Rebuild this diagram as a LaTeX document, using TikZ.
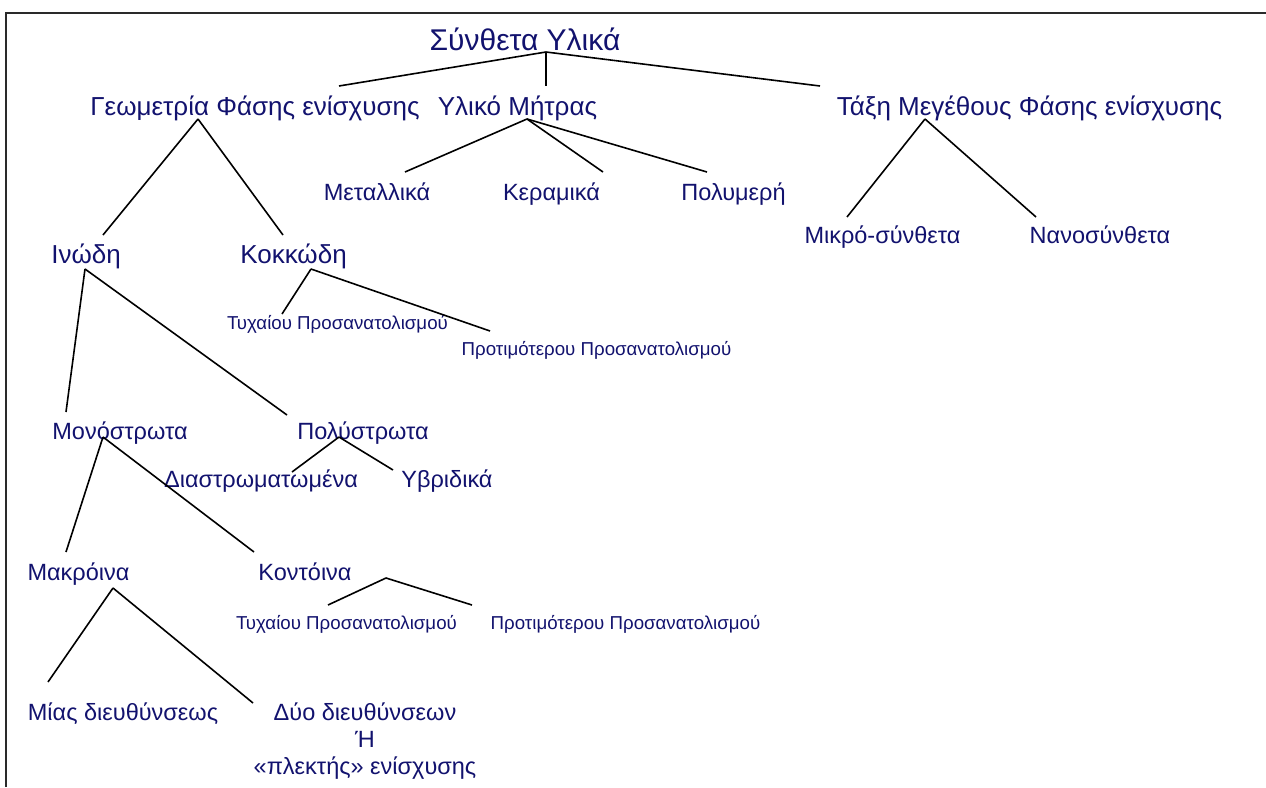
\documentclass[tikz,border=0pt]{standalone}
\usepackage{fontspec}
\setmainfont{Liberation Sans}
\usepackage{xcolor}
\usepackage{tikz}
\definecolor{TextNavy}{HTML}{12126E}
\definecolor{FrameGray}{HTML}{2A2A2A}

\begin{document}
\begin{tikzpicture}[x=1pt, y=-1pt,
  txt/.style={inner sep=0pt, anchor=base, text=TextNavy},
  root/.style={txt, font=\fontsize{30}{36}\selectfont},
  cat/.style={txt, font=\fontsize{26}{31}\selectfont},
  sub/.style={txt, font=\fontsize{23.5}{27}\selectfont},
  tiny/.style={txt, font=\fontsize{18.7}{22}\selectfont},
  edge/.style={line width=1.6pt, black}
]
\useasboundingbox (0,0) rectangle (1266,787);

% Frame (top and left edge only)
\draw[line width=2pt, FrameGray] (6,787) -- (6,13) -- (1266,13);

% Root and first level
\node[root] (comp) at (525,50) {Σύνθετα Υλικά};
\node[cat] (geom) at (255,115) {Γεωμετρία Φάσης ενίσχυσης};
\node[cat] (matrix) at (517.5,115) {Υλικό Μήτρας};
\node[cat] (scale) at (1029.5,115) {Τάξη Μεγέθους Φάσης ενίσχυσης};

% Matrix kinds
\node[sub] (metal) at (377,200) {Μεταλλικά};
\node[sub] (ceram) at (551.5,200) {Κεραμικά};
\node[sub] (polym) at (733.5,200) {Πολυμερή};

% Size classes
\node[sub] (micro) at (882.5,243) {Μικρό-σύνθετα};
\node[sub] (nano) at (1100,243) {Νανοσύνθετα};

% Geometry
\node[cat] (fibre) at (86,263) {Ινώδη};
\node[cat] (partic) at (293.5,263) {Κοκκώδη};
\node[tiny] (prand) at (337.5,329) {Τυχαίου Προσανατολισμού};
\node[tiny] (ppref) at (596.5,355) {Προτιμότερου Προσανατολισμού};

\node[sub] (single) at (120,439) {Μονόστρωτα};
\node[sub] (multi) at (363,439) {Πολύστρωτα};
\node[sub] (lamin) at (261,487) {Διαστρωματωμένα};
\node[sub] (hybrid) at (447,487) {Υβριδικά};

\node[sub] (longf) at (78.5,580) {Μακρόινα};
\node[sub] (shortf) at (305,580) {Κοντόινα};
\node[tiny] (srand) at (346.5,629) {Τυχαίου Προσανατολισμού};
\node[tiny] (spref) at (625.5,629) {Προτιμότερου Προσανατολισμού};

\node[sub] (unidir) at (123,720) {Μίας διευθύνσεως};
\node[sub, anchor=north, align=center] (bidir) at (365,703) {Δύο διευθύνσεων\\Ή\\«πλεκτής» ενίσχυσης};

% Connectors
\draw[edge] ([shift={(21,2)}]comp.base) -- ([shift={(84,-29)}]geom.base);
\draw[edge] ([shift={(21,2)}]comp.base) -- ([shift={(28.5,-29)}]matrix.base);
\draw[edge] ([shift={(21,2)}]comp.base) -- ([shift={(-209.5,-29)}]scale.base);

\draw[edge] ([shift={(9.5,4)}]matrix.base) -- ([shift={(28,-28)}]metal.base);
\draw[edge] ([shift={(9.5,4)}]matrix.base) -- ([shift={(51.5,-28)}]ceram.base);
\draw[edge] ([shift={(9.5,4)}]matrix.base) -- ([shift={(-26.5,-28)}]polym.base);

\draw[edge] ([shift={(-104.5,4)}]scale.base) -- ([shift={(-35.5,-26)}]micro.base);
\draw[edge] ([shift={(-104.5,4)}]scale.base) -- ([shift={(-64,-26)}]nano.base);

\draw[edge] ([shift={(-57,4)}]geom.base) -- ([shift={(17,-28)}]fibre.base);
\draw[edge] ([shift={(-57,4)}]geom.base) -- ([shift={(-10.5,-28)}]partic.base);

\draw[edge] ([shift={(17.5,6)}]partic.base) -- ([shift={(-55.5,-15)}]prand.base);
\draw[edge] ([shift={(17.5,6)}]partic.base) -- ([shift={(-106.5,-24)}]ppref.base);

\draw[edge] ([shift={(-1,6)}]fibre.base) -- ([shift={(-54,-27)}]single.base);
\draw[edge] ([shift={(-1,6)}]fibre.base) -- ([shift={(-76,-24)}]multi.base);

\draw[edge] ([shift={(-24,-2)}]multi.base) -- ([shift={(31,-15)}]lamin.base);
\draw[edge] ([shift={(-24,-2)}]multi.base) -- ([shift={(-54,-17)}]hybrid.base);

\draw[edge] ([shift={(-17,-2)}]single.base) -- ([shift={(-12.5,-28)}]longf.base);
\draw[edge] ([shift={(-17,-2)}]single.base) -- ([shift={(-51,-28)}]shortf.base);

\draw[edge] ([shift={(81,-2)}]shortf.base) -- ([shift={(-18.5,-24)}]srand.base);
\draw[edge] ([shift={(81,-2)}]shortf.base) -- ([shift={(-153.5,-24)}]spref.base);

\draw[edge] ([shift={(34.5,8)}]longf.base) -- ([shift={(-75,-38)}]unidir.base);
\draw[edge] ([shift={(34.5,8)}]longf.base) -- ([shift={(-112,0)}]bidir.north);
\end{tikzpicture}
\end{document}
